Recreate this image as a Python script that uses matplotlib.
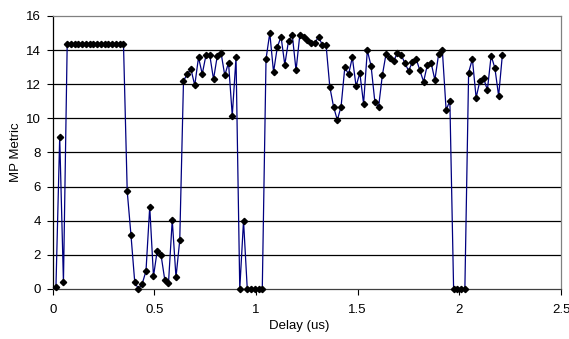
import numpy as np
import matplotlib
matplotlib.use("Agg")
import matplotlib.pyplot as plt

plt.rcParams["font.family"] = ["Liberation Sans", "DejaVu Sans"]

# delay samples are evenly spaced
DELAY_START = 0.016
DELAY_STEP = 0.01845

MP_METRIC = [
    0.1, 8.9, 0.4,
    14.38, 14.38, 14.38, 14.38, 14.38, 14.38, 14.38, 14.38,
    14.38, 14.38, 14.38, 14.38, 14.38, 14.38, 14.38, 14.38,
    5.72, 3.16, 0.41, 0.0, 0.31, 1.05, 4.82, 0.74, 2.25, 2.01,
    0.55, 0.35, 4.04, 0.68, 2.87, 12.19, 12.6, 12.87, 11.93, 13.57,
    12.6, 13.71, 13.71, 12.29, 13.65, 13.85, 12.52, 13.26, 10.16, 13.57,
    0.0, 4.0, 0.0, 0.0, 0.0, 0.0, 0.0,
    13.48, 15.0, 12.71, 14.16, 14.79, 13.14, 14.55, 14.88, 12.81, 14.88,
    14.75, 14.59, 14.39, 14.39, 14.79, 14.3, 14.3, 11.84, 10.68, 9.9,
    10.68, 12.99, 12.58, 13.57, 11.88, 12.66, 10.86, 13.98, 13.07, 10.98,
    10.66, 12.52, 13.79, 13.54, 13.36, 13.81, 13.73, 13.24, 12.79, 13.28,
    13.5, 12.81, 12.15, 13.13, 13.26, 12.25, 13.75, 13.98, 10.49, 11.02,
    0.0, 0.0, 0.0, 0.0,
    12.68, 13.48, 11.21, 12.19, 12.34, 11.66, 13.67, 12.95, 11.31, 13.73,
]
delay = DELAY_START + DELAY_STEP * np.arange(len(MP_METRIC))

X_TICKS = [0, 0.5, 1, 1.5, 2, 2.5]
X_LABELS = ["0", "0.5", "1", "1.5", "2", "2.5"]
Y_TICKS = [0, 2, 4, 6, 8, 10, 12, 14, 16]

fig = plt.figure(figsize=(5.69, 3.39), dpi=100)
ax = fig.add_axes([0.0926, 0.1475, 0.8934, 0.8055])

for y in Y_TICKS[1:-1]:
    ax.axhline(y, color="black", lw=0.9, zorder=1)

ax.plot(delay, MP_METRIC, color="#000080", lw=0.9, marker="D", ms=3.2,
        mfc="black", mec="black", zorder=3, clip_on=False)

ax.set_xlim(0, 2.5)
ax.set_ylim(0, 16)
ax.set_xticks(X_TICKS)
ax.set_xticklabels(X_LABELS)
ax.set_yticks(Y_TICKS)
ax.tick_params(direction="out", length=4.5, width=0.8, labelsize=9.5, colors="black")
ax.tick_params(axis="x", pad=6)
ax.tick_params(axis="y", pad=4)

ax.spines["left"].set_color("black")
ax.spines["bottom"].set_color("#404040")
ax.spines["top"].set_color("#808080")
ax.spines["right"].set_color("#808080")
for s in ax.spines.values():
    s.set_linewidth(0.9)

ax.set_xlabel("Delay (us)", fontsize=9.5)
ax.xaxis.set_label_coords(0.485, -0.115)
ax.set_ylabel("MP Metric", fontsize=9.5)
ax.yaxis.set_label_coords(-0.06, 0.5)

fig.savefig("out.png", dpi=100)
